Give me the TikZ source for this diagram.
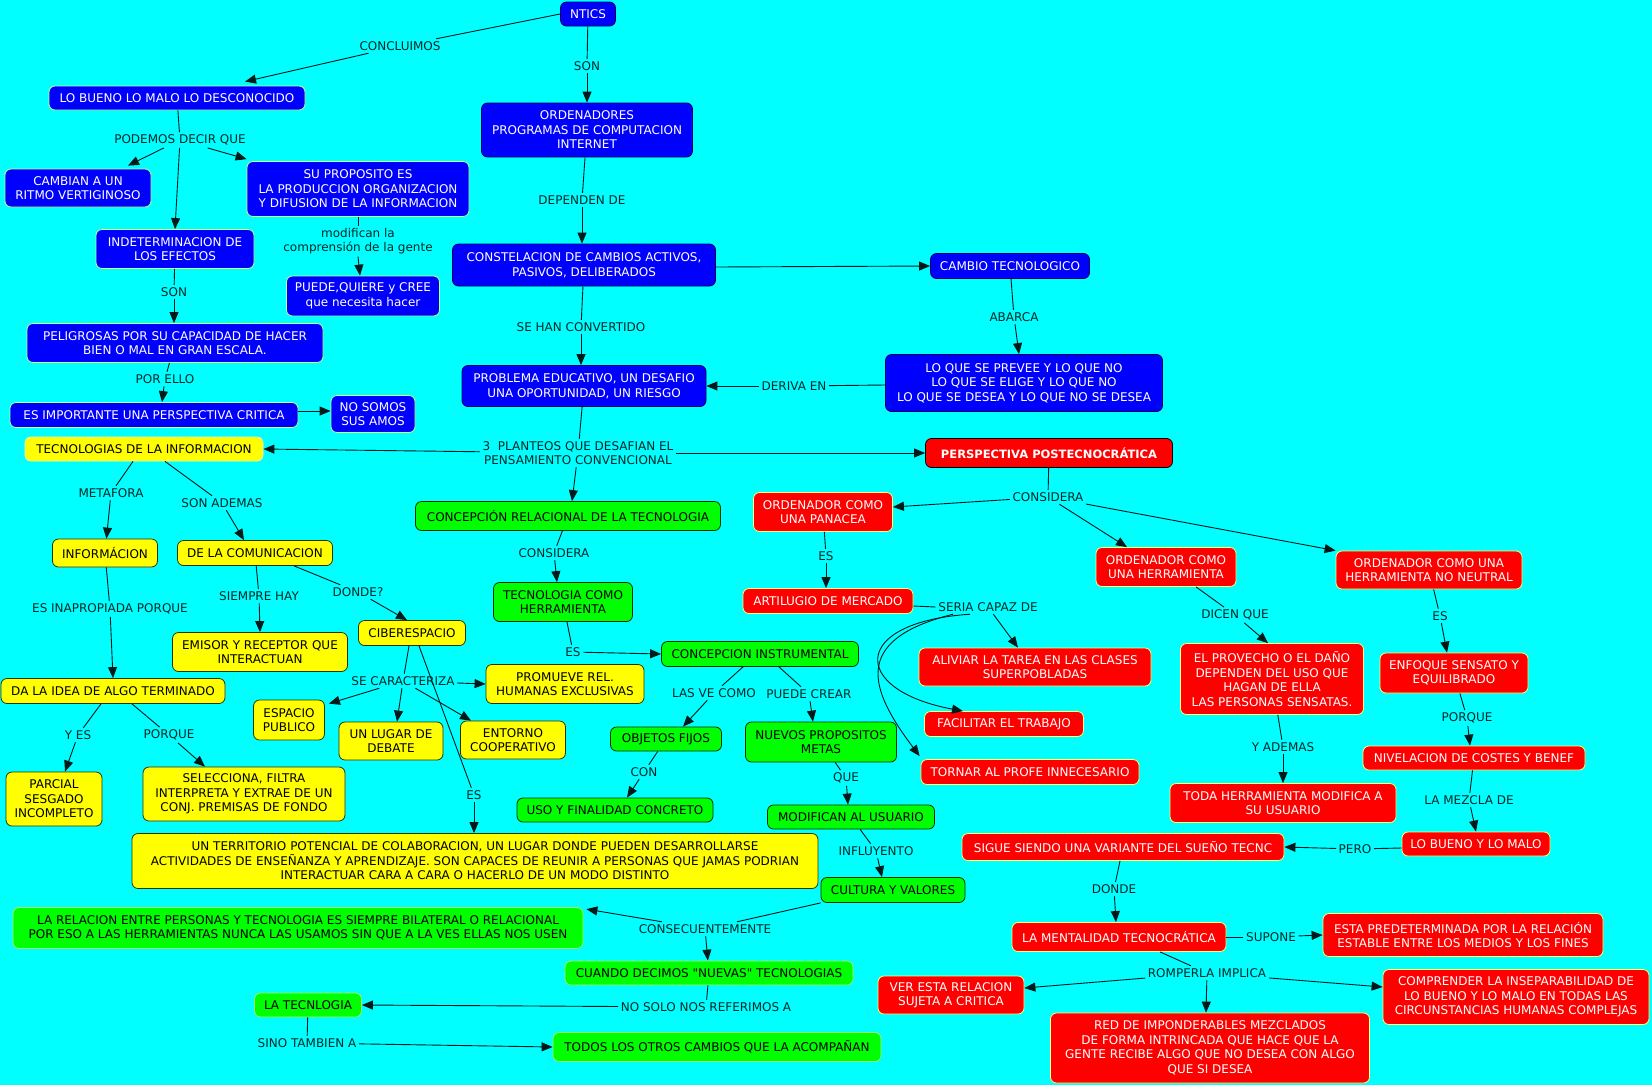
\documentclass[tikz,border=0pt]{standalone}
\usepackage{fontspec}
\setmainfont{DejaVu Sans}[Ligatures=TeXOff]
\usetikzlibrary{arrows.meta}
\definecolor{cbg}{RGB}{0,255,255}
\definecolor{cblue}{RGB}{0,0,255}
\definecolor{bdark}{RGB}{0,0,90}
\definecolor{blight}{RGB}{200,255,150}
\definecolor{cyel}{RGB}{255,255,0}
\definecolor{ydark}{RGB}{50,50,0}
\definecolor{ylight}{RGB}{255,255,160}
\definecolor{cgreen}{RGB}{0,255,0}
\definecolor{gdark}{RGB}{0,50,0}
\definecolor{glight}{RGB}{160,255,110}
\definecolor{cred}{RGB}{255,0,0}
\definecolor{rlight}{RGB}{255,255,110}
\definecolor{labc}{RGB}{0,40,40}
\definecolor{linec}{RGB}{0,25,25}
\tikzset{
  box/.style={rectangle, rounded corners=6pt, align=center, inner sep=2pt, line width=0.8pt},
  bl/.style={box, fill=cblue, draw=bdark, text=white},
  bll/.style={bl, draw=blight},
  yl/.style={box, fill=cyel, draw=ydark, text=black},
  yll/.style={yl, draw=ylight},
  gr/.style={box, fill=cgreen, draw=gdark, text=black},
  grl/.style={gr, draw=glight},
  rd/.style={box, fill=cred, draw=rlight, text=white},
  rdd/.style={rd, draw=black},
  lab/.style={inner sep=2.5pt, text=labc, align=center},
  con/.style={draw=linec, line width=0.9pt},
  arr/.style={con, -{Triangle[length=11pt,width=9pt]}},
  sz/.style 2 args={minimum width=#1pt, minimum height=#2pt}
}
\begin{document}
\begin{tikzpicture}[x=1pt,y=-1pt,font=\fontsize{12}{14.5}\selectfont]
\fill[cbg] (0,0) rectangle (1652,1085);
\useasboundingbox (0,0) rectangle (1652,1085);

% ---------- blue nodes ----------
\node[bl, sz={55}{24}] (ntics) at (588,14) {NTICS};
\node[bll, sz={256}{24}] (lobueno) at (177,98) {LO BUENO LO MALO LO DESCONOCIDO};
\node[bll, sz={146}{38}] (cambian) at (78,188) {CAMBIAN A UN\\RITMO VERTIGINOSO};
\node[bll, sz={222}{55}] (suprop) at (358,189) {SU PROPOSITO ES\\LA PRODUCCION ORGANIZACION\\Y DIFUSION DE LA INFORMACION};
\node[bll, sz={158}{39}] (indet) at (175,249) {INDETERMINACION DE\\LOS EFECTOS};
\node[bll, sz={296}{39}] (pelig) at (175,343) {PELIGROSAS POR SU CAPACIDAD DE HACER\\BIEN O MAL EN GRAN ESCALA.};
\node[bll, sz={153}{40}] (puede) at (363,296) {PUEDE,QUIERE y CREE\\que necesita hacer};
\node[bll, sz={288}{25}] (esimp) at (154,415) {ES IMPORTANTE UNA PERSPECTIVA CRITICA};
\node[bll, sz={84}{37}] (nosomos) at (373,414) {NO SOMOS\\SUS AMOS};
\node[bl, sz={211}{54}] (orden) at (587,130) {ORDENADORES\\PROGRAMAS DE COMPUTACION\\INTERNET};
\node[bl, sz={263}{42}] (constel) at (584,265) {CONSTELACION DE CAMBIOS ACTIVOS,\\PASIVOS, DELIBERADOS};
\node[bl, sz={159}{25}] (cambio) at (1010,266) {CAMBIO TECNOLOGICO};
\node[bl, sz={277}{57}] (loque) at (1024,383) {LO QUE SE PREVEE Y LO QUE NO\\LO QUE SE ELIGE Y LO QUE NO\\LO QUE SE DESEA Y LO QUE NO SE DESEA};
\node[bl, sz={244}{41}] (problema) at (584,386) {PROBLEMA EDUCATIVO, UN DESAFIO\\UNA OPORTUNIDAD, UN RIESGO};

% ---------- yellow nodes ----------
\node[yll, sz={238}{24}] (tecinfo) at (144,449) {TECNOLOGIAS DE LA INFORMACION};
\node[yl, sz={105}{28}] (informacion) at (105,553) {INFORMÁCION};
\node[yl, sz={155}{25}] (decomun) at (255,553) {DE LA COMUNICACION};
\node[yl, sz={175}{39}] (emisor) at (260,652) {EMISOR Y RECEPTOR QUE\\INTERACTUAN};
\node[yl, sz={224}{25}] (daidea) at (113,691) {DA LA IDEA DE ALGO TERMINADO};
\node[yl, sz={96}{54}] (parcial) at (54,799) {PARCIAL\\SESGADO\\INCOMPLETO};
\node[yl, sz={202}{54}] (selecciona) at (244,794) {SELECCIONA, FILTRA\\INTERPRETA Y EXTRAE DE UN\\CONJ. PREMISAS DE FONDO};
\node[yl, sz={107}{25}] (ciber) at (412,633) {CIBERESPACIO};
\node[yl, sz={71}{40}] (espacio) at (289,720) {ESPACIO\\PUBLICO};
\node[yl, sz={104}{38}] (lugar) at (391,741) {UN LUGAR DE\\DEBATE};
\node[yl, sz={105}{38}] (entorno) at (513,740) {ENTORNO\\COOPERATIVO};
\node[yl, sz={158}{39}] (promueve) at (565,684) {PROMUEVE REL.\\HUMANAS EXCLUSIVAS};
\node[yl, sz={686}{55}] (territorio) at (475,861) {UN TERRITORIO POTENCIAL DE COLABORACION, UN LUGAR DONDE PUEDEN DESARROLLARSE\\ACTIVIDADES DE ENSEÑANZA Y APRENDIZAJE. SON CAPACES DE REUNIR A PERSONAS QUE JAMAS PODRIAN\\INTERACTUAR CARA A CARA O HACERLO DE UN MODO DISTINTO};

% ---------- green nodes ----------
\node[gr, sz={305}{29}] (concrel) at (568,516) {CONCEPCIÓN RELACIONAL DE LA TECNOLOGIA};
\node[gr, sz={139}{39}] (techerr) at (563,602) {TECNOLOGIA COMO\\HERRAMIENTA};
\node[gr, sz={197}{25}] (concinst) at (760,654) {CONCEPCION INSTRUMENTAL};
\node[gr, sz={111}{24}] (objetos) at (666,739) {OBJETOS FIJOS};
\node[gr, sz={196}{24}] (uso) at (615,810) {USO Y FINALIDAD CONCRETO};
\node[gr, sz={151}{40}] (nuevos) at (821,742) {NUEVOS PROPOSITOS\\METAS};
\node[gr, sz={167}{24}] (modifican) at (851,817) {MODIFICAN AL USUARIO};
\node[gr, sz={144}{25}] (cultura) at (893,890) {CULTURA Y VALORES};
\node[grl, sz={570}{41}] (larel) at (298,928) {LA RELACION ENTRE PERSONAS Y TECNOLOGIA ES SIEMPRE BILATERAL O RELACIONAL\\POR ESO A LAS HERRAMIENTAS NUNCA LAS USAMOS SIN QUE A LA VES ELLAS NOS USEN};
\node[grl, sz={288}{24}] (cuando) at (709,973) {CUANDO DECIMOS "NUEVAS" TECNOLOGIAS};
\node[grl, sz={107}{24}] (latec) at (308,1005) {LA TECNLOGIA};
\node[grl, sz={328}{29}] (todos) at (717,1047) {TODOS LOS OTROS CAMBIOS QUE LA ACOMPAÑAN};

% ---------- red nodes ----------
\node[rdd, sz={247}{29}, font=\fontsize{11.5}{14}\selectfont\bfseries] (perspectiva) at (1049,453) {PERSPECTIVA POSTECNOCRÁTICA};
\node[rd, sz={139}{39}] (panacea) at (823,512) {ORDENADOR COMO\\UNA PANACEA};
\node[rd, sz={140}{39}] (herram) at (1166,567) {ORDENADOR COMO\\UNA HERRAMIENTA};
\node[rd, sz={186}{38}] (noneutral) at (1429,570) {ORDENADOR COMO UNA\\HERRAMIENTA NO NEUTRAL};
\node[rd, sz={170}{25}] (artilugio) at (828,601) {ARTILUGIO DE MERCADO};
\node[rd, sz={232}{38}] (aliviar) at (1035,667) {ALIVIAR LA TAREA EN LAS CLASES\\SUPERPOBLADAS};
\node[rd, sz={159}{25}] (facilitar) at (1004,724) {FACILITAR EL TRABAJO};
\node[rd, sz={218}{25}] (tornar) at (1030,772) {TORNAR AL PROFE INNECESARIO};
\node[rd, sz={183}{71}] (provecho) at (1272,679) {EL PROVECHO O EL DAÑO\\DEPENDEN DEL USO QUE\\HAGAN DE ELLA\\LAS PERSONAS SENSATAS.};
\node[rd, sz={148}{40}] (enfoque) at (1454,673) {ENFOQUE SENSATO Y\\EQUILIBRADO};
\node[rd, sz={222}{24}] (nivelacion) at (1474,758) {NIVELACION DE COSTES Y BENEF};
\node[rd, sz={226}{39}] (toda) at (1283,803) {TODA HERRAMIENTA MODIFICA A\\SU USUARIO};
\node[rd, sz={148}{24}] (buenomalo) at (1476,844) {LO BUENO Y LO MALO};
\node[rd, sz={322}{27}] (sigue) at (1123,847) {SIGUE SIENDO UNA VARIANTE DEL SUEÑO TECNC};
\node[rd, sz={214}{29}] (mentalidad) at (1119,937) {LA MENTALIDAD TECNOCRÁTICA};
\node[rd, sz={280}{43}] (predet) at (1463,935) {ESTA PREDETERMINADA POR LA RELACIÓN\\ESTABLE ENTRE LOS MEDIOS Y LOS FINES};
\node[rd, sz={146}{38}] (ver) at (951,995) {VER ESTA RELACION\\SUJETA A CRITICA};
\node[rd, sz={319}{70}] (red) at (1210,1048) {RED DE IMPONDERABLES MEZCLADOS\\DE FORMA INTRINCADA QUE HACE QUE LA\\GENTE RECIBE ALGO QUE NO DESEA CON ALGO\\QUE SI DESEA};
\node[rd, sz={266}{55}] (comprender) at (1516,997) {COMPRENDER LA INSEPARABILIDAD DE\\LO BUENO Y LO MALO EN TODAS LAS\\CIRCUNSTANCIAS HUMANAS COMPLEJAS};

% ---------- labels ----------
\node[lab] (lconcluimos) at (400,46) {CONCLUIMOS};
\node[lab] (lson1) at (587,66) {SON};
\node[lab] (lpodemos) at (180,140) {PODEMOS DECIR QUE};
\node[lab, font=\fontsize{12}{14}\selectfont] (lmodif) at (358,241) {modifican la\\comprensión de la gente};
\node[lab] (lson2) at (174,292) {SON};
\node[lab] (lporello) at (165,379) {POR ELLO};
\node[lab] (ldepend) at (582,200) {DEPENDEN DE};
\node[lab] (lsehan) at (581,327) {SE HAN CONVERTIDO};
\node[lab] (labarca) at (1014,317) {ABARCA};
\node[lab] (lderiva) at (794,386) {DERIVA EN};
\node[lab, font=\fontsize{12}{14}\selectfont] (lplanteos) at (578,453) {3\ \ PLANTEOS QUE DESAFIAN EL\\PENSAMIENTO CONVENCIONAL};
\node[lab] (lmetafora) at (111,493) {METAFORA};
\node[lab] (lsonademas) at (222,503) {SON ADEMAS};
\node[lab] (lesinap) at (110,609) {ES INAPROPIADA PORQUE};
\node[lab] (lsiempre) at (259,596) {SIEMPRE HAY};
\node[lab] (ldonde) at (358,592) {DONDE?};
\node[lab] (lyes) at (78,735) {Y ES};
\node[lab] (lporque1) at (169,735) {PORQUE};
\node[lab] (lsecar) at (403,681) {SE CARACTERIZA};
\node[lab] (les1) at (474,795) {ES};
\node[lab] (lconsidera1) at (554,553) {CONSIDERA};
\node[lab] (les2) at (573,652) {ES};
\node[lab] (lasve) at (714,693) {LAS VE COMO};
\node[lab] (lpuede) at (809,694) {PUEDE CREAR};
\node[lab] (lcon) at (644,772) {CON};
\node[lab] (lque) at (846,778) {QUE};
\node[lab] (linfl) at (876,851) {INFLUYENTO};
\node[lab] (lconsec) at (705,929) {CONSECUENTEMENTE};
\node[lab] (lnosolo) at (706,1007) {NO SOLO NOS REFERIMOS A};
\node[lab] (lsino) at (307,1043) {SINO TAMBIEN A};
\node[lab] (lconsidera2) at (1048,497) {CONSIDERA};
\node[lab] (les3) at (826,556) {ES};
\node[lab] (lseria) at (988,607) {SERIA CAPAZ DE};
\node[lab] (ldicen) at (1235,615) {DICEN QUE};
\node[lab] (lyademas) at (1283,747) {Y ADEMAS};
\node[lab] (les4) at (1440,616) {ES};
\node[lab] (lporque2) at (1467,718) {PORQUE};
\node[lab] (lmezcla) at (1469,800) {LA MEZCLA DE};
\node[lab] (lpero) at (1355,849) {PERO};
\node[lab] (ldonde2) at (1114,889) {DONDE};
\node[lab] (lsupone) at (1271,937) {SUPONE};
\node[lab] (lrompe) at (1207,973) {ROMPERLA IMPLICA};

% ---------- connectors ----------
\draw[con] (ntics.west) -- (lconcluimos);
\draw[arr] (lconcluimos) -- ([xshift=68pt,yshift=4pt]lobueno.north);
\draw[con] (ntics) -- (lson1);
\draw[arr] (lson1) -- (orden);

\draw[con] (lobueno) -- (lpodemos);
\draw[arr] (lpodemos) -- ([xshift=50pt,yshift=3pt]cambian.north);
\draw[arr] (lpodemos) -- (indet.north);
\draw[arr] (lpodemos) -- ([yshift=2pt]suprop.north west);
\draw[con] (suprop) -- (lmodif);
\draw[arr] (lmodif.south) -- ([xshift=-3pt]puede.north);
\draw[con] (indet) -- (lson2);
\draw[arr] (lson2) -- (lson2 |- pelig.north);
\draw[con] (pelig) -- (lporello);
\draw[arr] (lporello) -- ([xshift=8pt]esimp.north);
\draw[arr] ([yshift=4pt]esimp.east) -- ([yshift=3pt]nosomos.west);

\draw[con] (orden) -- (ldepend);
\draw[arr] (ldepend) -- (ldepend |- constel.north);
\draw[arr] ([yshift=-2pt]constel.east) -- (cambio.west);
\draw[con] (constel) -- (lsehan);
\draw[arr] (lsehan) -- (lsehan |- problema.north);
\draw[con] (cambio) -- (labarca);
\draw[arr] (labarca) -- ([xshift=-5pt]loque.north);
\draw[con] ([yshift=-2pt]loque.west) -- (lderiva);
\draw[arr] (lderiva) -- (problema.east);

\draw[con] (problema) -- (lplanteos);
\draw[arr] (lplanteos) -- (tecinfo.east);
\draw[arr] (lplanteos) -- ([xshift=4pt]concrel.north);
\draw[arr] (lplanteos) -- (perspectiva.west);

\draw[con] ([xshift=-11pt]tecinfo.south) -- (lmetafora);
\draw[arr] (lmetafora) -- (informacion);
\draw[con] ([xshift=21pt]tecinfo.south) -- (lsonademas);
\draw[arr] (lsonademas) -- ([xshift=-11pt]decomun.north);
\draw[con] (informacion) -- (lesinap);
\draw[arr] (lesinap) -- (daidea.north);
\draw[con] ([xshift=-12pt]daidea.south) -- (lyes);
\draw[arr] (lyes) -- ([xshift=11pt]parcial.north);
\draw[con] ([xshift=19pt]daidea.south) -- (lporque1);
\draw[arr] (lporque1) -- ([xshift=-39pt]selecciona.north);
\draw[con] (decomun) -- (lsiempre);
\draw[arr] (lsiempre) -- (emisor.north);
\draw[con] ([xshift=39pt]decomun.south) -- (ldonde);
\draw[arr] (ldonde) -- ([xshift=-5pt]ciber.north);
\draw[con] ([xshift=-3pt]ciber.south) -- (lsecar);
\draw[arr] (lsecar) -- ([xshift=4pt,yshift=-4pt]espacio.north east);
\draw[arr] (lsecar) -- ([xshift=6pt]lugar.north);
\draw[arr] (lsecar) -- ([xshift=-42pt]entorno.north);
\draw[arr] (lsecar) -- (promueve.west);
\draw[con] ([xshift=7pt]ciber.south) -- (les1);
\draw[arr] (les1) -- (les1 |- territorio.north);

\draw[con] (concrel) -- (lconsidera1);
\draw[arr] (lconsidera1) -- ([xshift=-6pt]techerr.north);
\draw[con] (techerr) -- (les2);
\draw[arr] (les2) -- (concinst.west);
\draw[con] ([xshift=-17pt]concinst.south) -- (lasve);
\draw[arr] (lasve) -- ([xshift=17pt]objetos.north);
\draw[con] ([xshift=19pt]concinst.south) -- (lpuede);
\draw[arr] (lpuede) -- ([xshift=-8pt]nuevos.north);
\draw[con] (objetos) -- (lcon);
\draw[arr] (lcon) -- ([xshift=12pt]uso.north);
\draw[con] (nuevos) -- (lque);
\draw[arr] (lque) -- ([xshift=-3pt]modifican.north);
\draw[con] (modifican) -- (linfl);
\draw[arr] (linfl) -- ([xshift=-11pt]cultura.north);
\draw[con] (cultura.south west) -- (lconsec);
\draw[arr] (lconsec) -- ([xshift=3pt,yshift=-2pt]larel.north east);
\draw[arr] (lconsec) -- (cuando);
\draw[con] (cuando) -- (lnosolo);
\draw[arr] (lnosolo) -- (latec.east);
\draw[con] (latec) -- (lsino);
\draw[arr] (lsino) -- (todos.west);

\draw[con] (perspectiva) -- (lconsidera2);
\draw[arr] (lconsidera2) -- ([yshift=5pt]panacea.east);
\draw[arr] (lconsidera2) -- ([xshift=-39pt]herram.north);
\draw[arr] (lconsidera2) -- (noneutral.north west);
\draw[con] (panacea) -- (les3);
\draw[arr] (les3) -- (les3 |- artilugio.north);
\draw[con] ([yshift=-5pt]artilugio.east) -- (lseria.west);
\draw[arr] (lseria) -- ([xshift=-17pt]aliviar.north);
\draw[arr] ([xshift=-18pt]lseria.south) .. controls (850,622) and (850,690) .. ([xshift=-41pt]facilitar.north);
\draw[arr] ([xshift=-35pt]lseria.south) .. controls (850,640) and (870,690) .. ([xshift=-1pt,yshift=3pt]tornar.north west);
\draw[con] ([xshift=30pt]herram.south) -- (ldicen);
\draw[arr] (ldicen) -- ([xshift=-4pt]provecho.north);
\draw[con] (provecho) -- (lyademas);
\draw[arr] (lyademas) -- (toda.north);
\draw[con] (noneutral) -- (les4);
\draw[arr] (les4) -- ([xshift=-7pt]enfoque.north);
\draw[con] (enfoque) -- (lporque2);
\draw[arr] (lporque2) -- ([xshift=-4pt]nivelacion.north);
\draw[con] (nivelacion) -- (lmezcla);
\draw[arr] (lmezcla) -- (buenomalo.north);
\draw[con] ([yshift=-4pt]buenomalo.west) -- (lpero);
\draw[arr] (lpero) -- (sigue.east);
\draw[con] (sigue) -- (ldonde2);
\draw[arr] (ldonde2) -- ([xshift=-3pt]mentalidad.north);
\draw[con] (mentalidad.east) -- (lsupone);
\draw[arr] (lsupone) -- (predet.west);
\draw[con] ([xshift=41pt]mentalidad.south) -- (lrompe);
\draw[arr] (lrompe) -- ([yshift=7pt]ver.east);
\draw[arr] (lrompe) -- ([xshift=-4pt]red.north);
\draw[arr] (lrompe) -- ([yshift=10pt]comprender.west);
\end{tikzpicture}
\end{document}
